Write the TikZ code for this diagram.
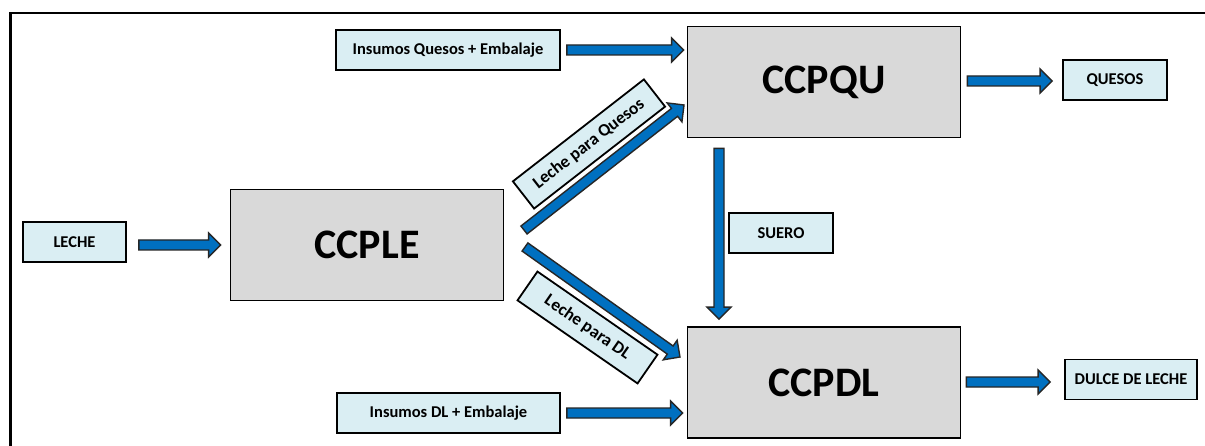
\documentclass[tikz,border=0pt]{standalone}
\usepackage{fontspec}
\setmainfont{Carlito}
\usetikzlibrary{calc}

\definecolor{flowblue}{HTML}{0070C0}
\definecolor{tagfill}{HTML}{DAEEF3}
\definecolor{unitfill}{HTML}{D9D9D9}

\tikzset{
  tag/.style={draw=black, line width=1.8pt, fill=tagfill, minimum height=40pt,
    inner sep=0pt, font=\fontsize{16.5}{18}\selectfont\bfseries},
  slanttag/.style={tag, font=\fontsize{17.5}{19}\selectfont\bfseries},
  unit/.style={draw=black, line width=1.8pt, fill=unitfill, minimum width=273pt,
    minimum height=111pt, inner sep=0pt, font=\fontsize{42}{46}\selectfont\bfseries},
  flow/.style={draw=black!85, line width=1.4pt, fill=flowblue, line join=miter},
}

% block arrow from one named point to another
\newcommand\flowarrow[2]{%
  \draw[flow] let \p1=(#1), \p2=(#2),
    \n1={atan2(\y2-\y1,\x2-\x1)}, \n2={veclen(\x2-\x1,\y2-\y1)} in
    [shift={(\p1)}, rotate=\n1]
    (0pt,-5pt) -- ({\n2*1pt-12pt},-5pt) -- ({\n2*1pt-12pt},-12pt) -- ({\n2*1pt},0pt)
    -- ({\n2*1pt-12pt},12pt) -- ({\n2*1pt-12pt},5pt) -- (0pt,5pt) -- cycle;}

\begin{document}
\begin{tikzpicture}[x=1pt, y=-1pt]
  \fill[white] (0,0) rectangle (1205,446);
  \useasboundingbox (0,0) rectangle (1205,446);

  % frame
  \draw[line width=2.5pt] (10.5,446) |- (1205,13);

  % processing centres
  \node[unit] (ccple) at (367,245) {CCPLE};
  \node[unit] (ccpqu) at (824,82) {CCPQU};
  \node[unit] (ccpdl) at (824,382.5) {CCPDL};

  % inputs and outputs
  \node[tag, minimum width=103pt] (leche) at (74.5,242) {LECHE};
  \node[tag, minimum width=224pt] (insq) at (448,50) {Insumos Quesos + Embalaje};
  \node[tag, minimum width=104pt] (quesos) at (1115,80) {QUESOS};
  \node[tag, minimum width=104pt] (suero) at (781,233) {SUERO};
  \node[tag, minimum width=132pt] (dulce) at (1131,379.5) {DULCE DE LECHE};
  \node[tag, minimum width=223pt] (insdl) at (448.5,413) {Insumos DL + Embalaje};

  % slanted flow labels
  \node[slanttag, rotate=37.9, minimum width=166pt, minimum height=34.5pt] (lq) at (589,144) {Leche para Quesos};
  \node[slanttag, rotate=-34.7, minimum width=146pt, minimum height=35pt] (ld) at (587.5,327.5) {Leche para DL};

  % arrow end points
  \coordinate (lecheout) at ($(leche.east)+(12,3)$);
  \coordinate (ccplein) at ($(ccple.west)+(-9,0)$);
  \coordinate (insqout) at ($(insq.east)+(6,0)$);
  \coordinate (ccpquin) at ($(ccpqu.west)+(-3,-32)$);
  \coordinate (ccpquout) at ($(ccpqu.east)+(6,-1)$);
  \coordinate (quesosin) at ($(quesos.west)+(-10,1)$);
  \coordinate (ccpqubot) at ($(ccpqu.south)+(-105,10)$);
  \coordinate (ccpdltop) at ($(ccpdl.north)+(-105,-7)$);
  \coordinate (ccplenq) at (524,230);
  \coordinate (ccpquq) at (684,105);
  \coordinate (ccplend) at (525,247);
  \coordinate (ccpdld) at (680,357);
  \coordinate (ccpdlout) at ($(ccpdl.east)+(5,-0.5)$);
  \coordinate (dulcein) at ($(dulce.west)+(-14,2.5)$);
  \coordinate (insdlout) at ($(insdl.east)+(6,0)$);
  \coordinate (ccpdlin) at ($(ccpdl.west)+(-4,30.5)$);

  % flows
  \flowarrow{lecheout}{ccplein}
  \flowarrow{insqout}{ccpquin}
  \flowarrow{ccpquout}{quesosin}
  \flowarrow{ccpqubot}{ccpdltop}
  \flowarrow{ccplenq}{ccpquq}
  \flowarrow{ccplend}{ccpdld}
  \flowarrow{ccpdlout}{dulcein}
  \flowarrow{insdlout}{ccpdlin}
\end{tikzpicture}
\end{document}
